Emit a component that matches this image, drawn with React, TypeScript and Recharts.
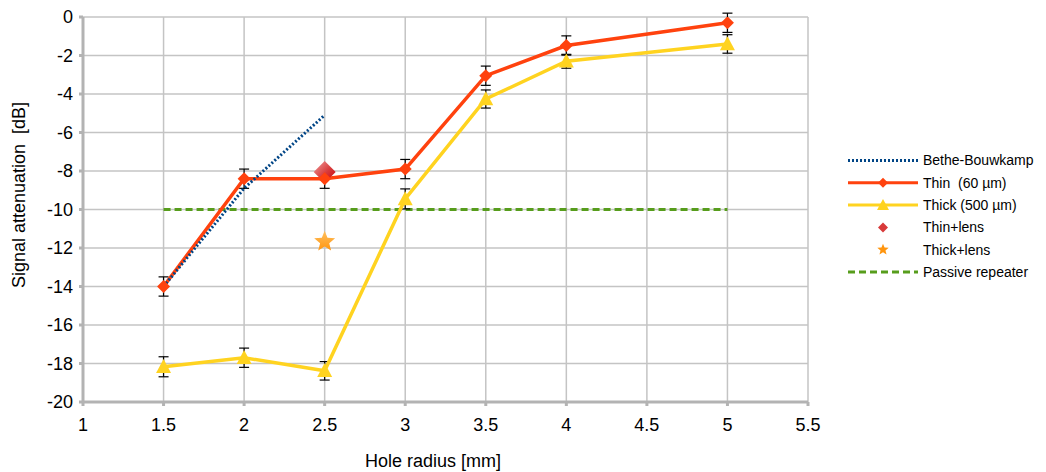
import React from 'react';
import {
  ComposedChart,
  Line,
  Scatter,
  XAxis,
  YAxis,
  CartesianGrid,
  ErrorBar
} from 'recharts';

// hole radius [mm]
const radii = [1.5, 2, 2.5, 3, 3.5, 4, 5];
const thinValues = [-14, -8.4, -8.4, -7.9, -3.05, -1.48, -0.3];
const thinErrors = [0.5, 0.5, 0.5, 0.5, 0.5, 0.5, 0.5];
const thickValues = [-18.17, -17.7, -18.38, -9.45, -4.26, -2.3, -1.4];
const thickErrors = [0.52, 0.5, 0.48, 0.52, 0.47, 0.36, 0.48];

const betheRadii = [1.5, 2, 2.5];
const betheValues = [-14, -8.9, -5.1];

const lensRadius = 2.5;
const thinLensValue = -8.05;
const thickLensValue = -11.62;

const repeaterRadii = [1.5, 5];
const repeaterValue = -10;

const xTicks = [1, 1.5, 2, 2.5, 3, 3.5, 4, 4.5, 5, 5.5];
const yTicks = [0, -2, -4, -6, -8, -10, -12, -14, -16, -18, -20];

const C_BETHE = '#004586';
const C_THIN = '#ff420e';
const C_THICK = '#ffd320';
const C_THIN_LENS = '#c5000b';
const C_THICK_LENS = '#ff950e';
const C_REPEATER = '#579d1c';
const C_GRID = '#c4c4c4';
const C_AXIS = '#b3b3b3';
const FONT = '"Liberation Sans", Arial, sans-serif';

const thinData = radii.map((x, i) => ({ x, y: thinValues[i], err: thinErrors[i] }));
const thickData = radii.map((x, i) => ({ x, y: thickValues[i], err: thickErrors[i] }));
const betheData = betheRadii.map((x, i) => ({ x, y: betheValues[i] }));
const thinLensData = [{ x: lensRadius, y: thinLensValue }];
const thickLensData = [{ x: lensRadius, y: thickLensValue }];
const repeaterData = repeaterRadii.map(x => ({ x, y: repeaterValue }));

const diamondPath = (cx: number, cy: number, r: number) =>
  `M${cx - r},${cy} L${cx},${cy - r} L${cx + r},${cy} L${cx},${cy + r} Z`;

const trianglePath = (cx: number, cy: number, w: number, h: number) =>
  `M${cx},${cy - h * 0.55} L${cx - w / 2},${cy + h * 0.45} L${cx + w / 2},${cy + h * 0.45} Z`;

const starPath = (cx: number, cy: number, ro: number, ri: number) => {
  const pts: string[] = [];
  for (let i = 0; i < 10; i++) {
    const r = i % 2 === 0 ? ro : ri;
    const a = -Math.PI / 2 + (i * Math.PI) / 5;
    pts.push(`${cx + r * Math.cos(a)},${cy + r * Math.sin(a)}`);
  }
  return `M${pts.join(' L')} Z`;
};

const ThinDot = (props: any) => {
  const { cx, cy, index } = props;
  if (cx == null || cy == null) return null;
  return <path key={`thin-${index}`} d={diamondPath(cx, cy, 6.5)} fill={C_THIN} />;
};

const ThickDot = (props: any) => {
  const { cx, cy, index } = props;
  if (cx == null || cy == null) return null;
  return <path key={`thick-${index}`} d={trianglePath(cx, cy, 15, 14)} fill={C_THICK} />;
};

const ThinLensShape = (props: any) => {
  const { cx, cy } = props;
  return (
    <g>
      <defs>
        <linearGradient id="thinLensGrad" x1="0" y1="0" x2="1" y2="1">
          <stop offset="0%" stopColor="#f0a0a0" />
          <stop offset="55%" stopColor="#d83a3a" />
          <stop offset="100%" stopColor={C_THIN_LENS} />
        </linearGradient>
      </defs>
      <path d={diamondPath(cx, cy, 11)} fill="url(#thinLensGrad)" />
    </g>
  );
};

const ThickLensShape = (props: any) => {
  const { cx, cy } = props;
  return (
    <g>
      <defs>
        <linearGradient id="thickLensGrad" x1="0" y1="0" x2="0" y2="1">
          <stop offset="0%" stopColor="#ffc060" />
          <stop offset="100%" stopColor={C_THICK_LENS} />
        </linearGradient>
      </defs>
      <path d={starPath(cx, cy + 1, 11, 4.8)} fill="url(#thickLensGrad)" />
    </g>
  );
};

const legendRows = [
  { name: 'Bethe-Bouwkamp', kind: 'bethe' },
  { name: 'Thin  (60 µm)', kind: 'thin' },
  { name: 'Thick (500 µm)', kind: 'thick' },
  { name: 'Thin+lens', kind: 'thinLens' },
  { name: 'Thick+lens', kind: 'thickLens' },
  { name: 'Passive repeater', kind: 'repeater' }
];

const LegendIcon = ({ kind, y }: { kind: string; y: number }) => {
  const x1 = 848;
  const x2 = 918;
  const mid = (x1 + x2) / 2;
  switch (kind) {
    case 'bethe':
      return <line x1={x1} x2={x2} y1={y} y2={y} stroke={C_BETHE} strokeWidth={3} strokeDasharray="2 2" />;
    case 'thin':
      return (
        <g>
          <line x1={x1} x2={x2} y1={y} y2={y} stroke={C_THIN} strokeWidth={3} />
          <path d={diamondPath(mid, y, 5)} fill={C_THIN} />
        </g>
      );
    case 'thick':
      return (
        <g>
          <line x1={x1} x2={x2} y1={y} y2={y} stroke={C_THICK} strokeWidth={3} />
          <path d={trianglePath(mid, y, 12, 11)} fill={C_THICK} />
        </g>
      );
    case 'thinLens':
      return <path d={diamondPath(mid, y, 5)} fill="#d83a3a" />;
    case 'thickLens':
      return <path d={starPath(mid, y, 6, 2.6)} fill={C_THICK_LENS} />;
    default:
      return <line x1={x1} x2={x2} y1={y} y2={y} stroke={C_REPEATER} strokeWidth={3} strokeDasharray="7 4" />;
  }
};

export default function App() {
  return (
    <div style={{ position: 'absolute', left: 0, top: 0, width: 1046, height: 472, background: '#fff', fontFamily: FONT }}>
      <ComposedChart
        width={1046}
        height={472}
        margin={{ top: 17, right: 238, bottom: 40, left: 0 }}
        style={{ fontFamily: FONT }}
      >
        <CartesianGrid stroke={C_GRID} strokeWidth={1.5} />
        <XAxis
          type="number"
          dataKey="x"
          domain={[1, 5.5]}
          ticks={xTicks}
          interval={0}
          height={30}
          axisLine={{ stroke: C_AXIS, strokeWidth: 3 }}
          tickLine={{ stroke: C_AXIS, strokeWidth: 3 }}
          tickSize={4}
          tickMargin={12}
          tick={{ fill: '#000', fontSize: 18 }}
        />
        <YAxis
          type="number"
          domain={[-20, 0]}
          ticks={yTicks}
          interval={0}
          width={83}
          allowDataOverflow
          axisLine={{ stroke: C_AXIS, strokeWidth: 3 }}
          tickLine={{ stroke: C_AXIS, strokeWidth: 3 }}
          tickSize={4}
          tickMargin={6}
          tick={{ fill: '#000', fontSize: 18 }}
        />
        <Line
          data={repeaterData}
          dataKey="y"
          type="linear"
          stroke={C_REPEATER}
          strokeWidth={3}
          strokeDasharray="7 4"
          dot={false}
          activeDot={false}
          isAnimationActive={false}
        />
        <Line
          data={thickData}
          dataKey="y"
          type="linear"
          stroke={C_THICK}
          strokeWidth={3.5}
          dot={ThickDot}
          activeDot={false}
          isAnimationActive={false}
        >
          <ErrorBar dataKey="err" width={5} stroke="#000" strokeWidth={1.2} direction="y" />
        </Line>
        <Scatter
          data={thinLensData}
          dataKey="y"
          shape={ThinLensShape}
          isAnimationActive={false}
        />
        <Line
          data={thinData}
          dataKey="y"
          type="linear"
          stroke={C_THIN}
          strokeWidth={3.5}
          dot={ThinDot}
          activeDot={false}
          isAnimationActive={false}
        >
          <ErrorBar dataKey="err" width={5} stroke="#000" strokeWidth={1.2} direction="y" />
        </Line>
        <Line
          data={betheData}
          dataKey="y"
          type="linear"
          stroke={C_BETHE}
          strokeWidth={3}
          strokeDasharray="2 2"
          dot={false}
          activeDot={false}
          isAnimationActive={false}
        />
        <Scatter
          data={thickLensData}
          dataKey="y"
          shape={ThickLensShape}
          isAnimationActive={false}
        />
      </ComposedChart>
      <svg
        width={1046}
        height={472}
        style={{ position: 'absolute', left: 0, top: 0, pointerEvents: 'none' }}
      >
        <text
          x={0}
          y={0}
          transform="translate(25,195) rotate(-90)"
          textAnchor="middle"
          fontSize={18}
          fontFamily={FONT}
          fill="#000"
          style={{ whiteSpace: 'pre' }}
        >
          {'Signal attenuation  [dB]'}
        </text>
        <text x={433} y={467} textAnchor="middle" fontSize={18} fontFamily={FONT} fill="#000">
          Hole radius [mm]
        </text>
        {legendRows.map((row, i) => {
          const y = 160.5 + i * 22.3;
          return (
            <g key={row.name}>
              <LegendIcon kind={row.kind} y={y} />
              <text
                x={923}
                y={y}
                dy="0.35em"
                fontSize={14}
                fontFamily={FONT}
                fill="#000"
                style={{ whiteSpace: 'pre' }}
              >
                {row.name}
              </text>
            </g>
          );
        })}
      </svg>
    </div>
  );
}
